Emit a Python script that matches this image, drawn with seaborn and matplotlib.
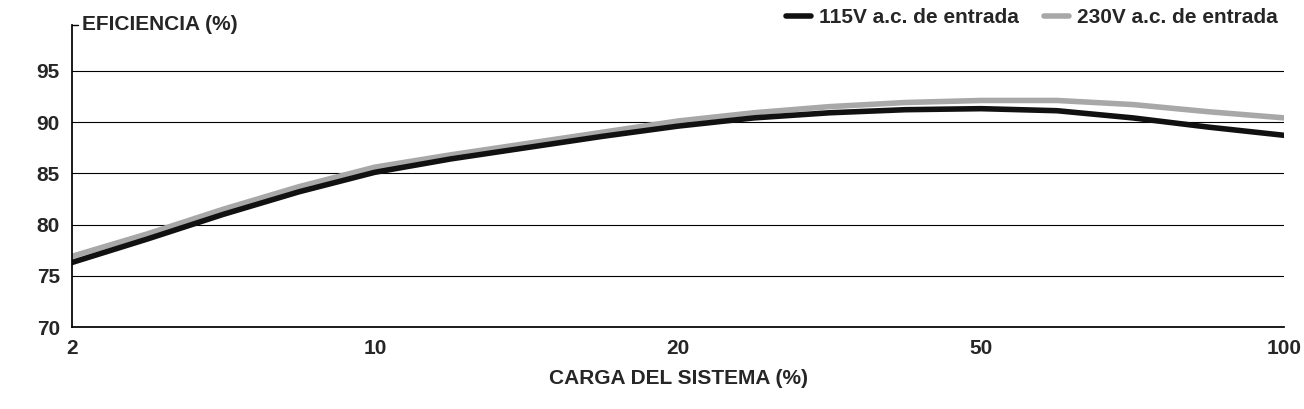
import matplotlib
matplotlib.use("Agg")
import matplotlib.pyplot as plt
from matplotlib.lines import Line2D
import seaborn as sns
import pandas as pd

sns.set_theme(style="white")
plt.rcParams["font.family"] = ["Liberation Sans", "DejaVu Sans"]

x_labels = ["2", "10", "20", "50", "100"]
x_pos = [0, 0.25, 0.5, 0.75, 1, 1.25, 1.5, 1.75, 2, 2.25, 2.5, 2.75, 3, 3.25, 3.5, 3.75, 4]
eff_115 = [76.3, 78.6, 81.0, 83.2, 85.1, 86.4, 87.5, 88.6, 89.6, 90.4, 90.9, 91.2, 91.3, 91.1, 90.4, 89.5, 88.7]
eff_230 = [76.9, 79.1, 81.5, 83.7, 85.6, 86.8, 87.9, 89.0, 90.1, 90.9, 91.5, 91.9, 92.1, 92.1, 91.7, 91.0, 90.4]

df = pd.DataFrame({
    "x": x_pos * 2,
    "y": eff_115 + eff_230,
    "serie": ["115V a.c. de entrada"] * len(x_pos) + ["230V a.c. de entrada"] * len(x_pos),
})

fig, ax = plt.subplots(figsize=(13.04, 4.09), dpi=100)
for v in [75, 80, 85, 90, 95]:
    ax.axhline(v, color="black", linewidth=0.8, zorder=0)
sns.lineplot(data=df, x="x", y="y", hue="serie",
             palette={"115V a.c. de entrada": "#111111", "230V a.c. de entrada": "#a8a8a8"},
             hue_order=["230V a.c. de entrada", "115V a.c. de entrada"],
             linewidth=4, ax=ax, legend=False)

ax.set_xlim(0, 4)
ax.set_ylim(70, 99.5)
ax.set_xticks(range(5))
ax.set_xticklabels(x_labels, fontsize=15, fontweight="semibold")
ax.set_yticks([70, 75, 80, 85, 90, 95])
ax.set_yticklabels(["70", "75", "80", "85", "90", "95"], fontsize=15, fontweight="semibold")
ax.tick_params(axis="both", length=5, width=1, color="black", direction="out")
ax.set_xlabel("CARGA DEL SISTEMA (%)", fontsize=15, fontweight="bold", labelpad=8)
ax.set_ylabel("")
for s in ["top", "right"]:
    ax.spines[s].set_visible(False)
ax.spines["left"].set_color("black")
ax.spines["bottom"].set_color("black")
ax.spines["left"].set_bounds(70, 99.5)

ax.plot([0, 0.02], [99.5, 99.5], color="black", lw=1, clip_on=False)
ax.text(0.035, 99.5, "EFICIENCIA (%)", fontsize=15, va="center", ha="left", fontweight="bold")

handles = [Line2D([], [], color="#111111", lw=4), Line2D([], [], color="#a8a8a8", lw=4)]
leg = ax.legend(handles, ["115V a.c. de entrada", "230V a.c. de entrada"], loc="lower right",
                bbox_to_anchor=(1.01, 0.93), ncol=2, frameon=False,
                prop={"size": 15, "weight": "bold"},
                handlelength=1.2, handletextpad=0.4, columnspacing=1.2)

plt.subplots_adjust(left=0.055, right=0.985, top=0.94, bottom=0.2)
plt.savefig("out.png", dpi=100)
